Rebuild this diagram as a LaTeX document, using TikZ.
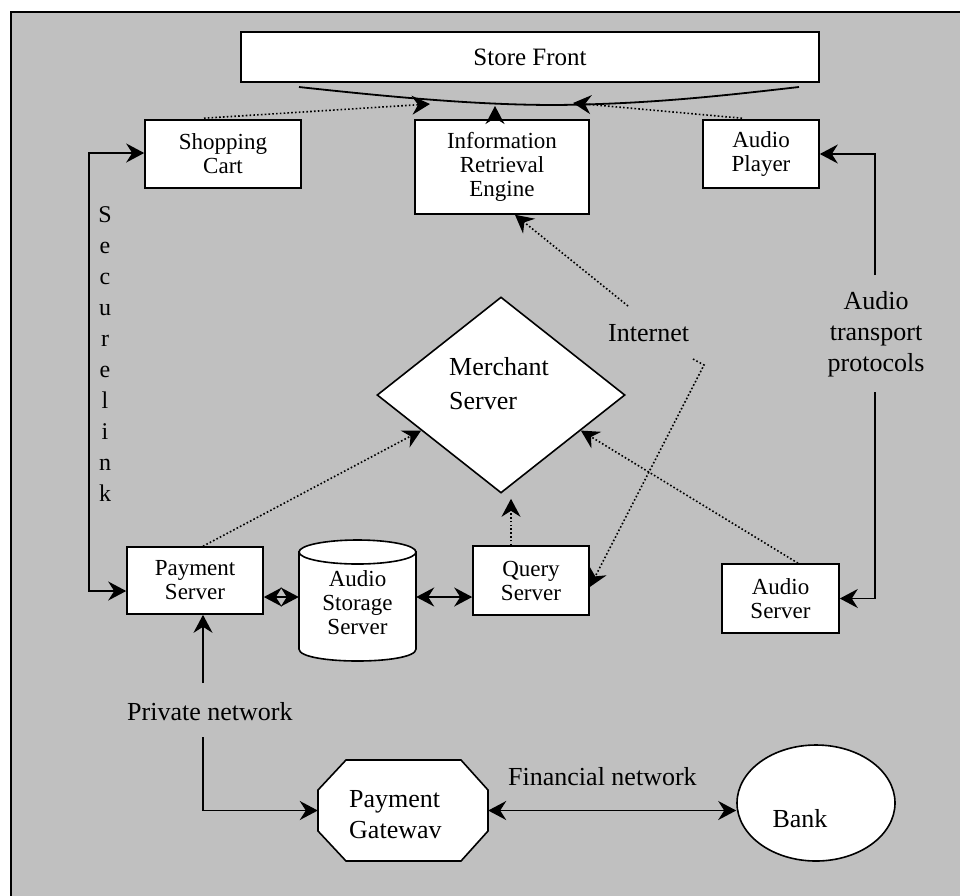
\documentclass[tikz,border=0pt]{standalone}
\usepackage{fontspec}
\setmainfont{Liberation Serif}
\usetikzlibrary{arrows.meta,calc,shapes.geometric}
\definecolor{panel}{HTML}{C0C0C0}
\begin{document}
\begin{tikzpicture}[x=1pt,y=-1pt,
  tip/.tip={Stealth[length=18pt,width=19pt,inset=6pt]},
  box/.style={draw,fill=white,line width=1.6pt,rectangle,inner sep=0pt,align=center,
    font=\fontsize{23}{24}\selectfont},
  link/.style={line width=1.8pt,-tip},
  twoway/.style={line width=1.8pt,tip-tip},
  plain/.style={line width=1.8pt},
  web/.style={line width=1.6pt,dash pattern=on 1.6pt off 2.2pt,-tip},
  big/.style={inner sep=0pt,font=\fontsize{26}{31}\selectfont},
]
\useasboundingbox (0,0) rectangle (960,895);
\fill[white] (0,0) rectangle (960,895);
% panel
\draw[fill=panel,line width=2pt] (11,12) rectangle (990,920);

% top row
\node[box,minimum width=578,minimum height=50,font=\fontsize{25}{26}\selectfont] (front) at (530,57) {Store Front};
\node[box,minimum width=156,minimum height=68] (cart) at (223,154) {Shopping\\Cart};
\node[box,minimum width=174,minimum height=94] (ir) at (502,167) {Information\\Retrieval\\Engine};
\node[box,minimum width=116,minimum height=68] (ap) at (761,154) {Audio\\Player};

% merchant server
\node[diamond,draw,fill=white,line width=1.6pt,inner sep=0pt,minimum width=248,minimum height=196] (merchant) at (501,395) {};
\node[big,anchor=north west,align=left,font=\fontsize{26}{34}\selectfont] (mlabel) at (449,357.5) {Merchant\\Server};

% bottom row
\node[box,minimum width=136,minimum height=67] (pay) at (195,580.5) {Payment\\Server};
\node[box,minimum width=116,minimum height=69] (query) at (531,580.5) {Query\\Server};
\node[box,minimum width=117,minimum height=69] (as) at (780.5,598.5) {Audio\\Server};

% audio storage cylinder
\node[minimum width=117,minimum height=121,inner sep=0pt] (store) at (357.5,600.5) {};
\draw[fill=white,line width=1.6pt] (299,552) -- (299,649) .. controls (299,665) and (416,665) .. (416,649) -- (416,552) -- cycle;
\draw[fill=white,line width=1.6pt] (357.5,552) ellipse [x radius=58.5,y radius=12];
\node[align=center,inner sep=0pt,anchor=north,font=\fontsize{23}{24}\selectfont] (storelabel) at (357.5,570) {Audio\\Storage\\Server};

% payment gateway and bank
\node[minimum width=170,minimum height=101,inner sep=0pt] (gate) at (403,810.5) {};
\draw[fill=white,line width=1.6pt] (346,760) -- (461,760) -- (488,790) -- (488,831) -- (461,861) -- (346,861) -- (318,831) -- (318,790) -- cycle;
\node[big,align=left,anchor=north west] (gatelabel) at (349,790) {Payment\\Gatewav};
\node[ellipse,draw,fill=white,line width=1.6pt,minimum width=158,minimum height=116,inner sep=0pt] (bank) at (816,803) {};
\node[big,anchor=base] (banklabel) at (800,827) {Bank};

% free labels
\node[big,anchor=base west] (internet) at (608,341) {Internet};
\node[big,anchor=base west] (private) at (127,720) {Private network};
\node[big,anchor=base west] (financial) at (508,785) {Financial network};
\node[big,anchor=north,align=center] (atp) at (876,291) {Audio\\transport\\protocols};
\node[anchor=north,align=center,inner sep=0pt,font=\fontsize{24}{31}\selectfont] (secure) at (105,206) {S\\e\\c\\u\\r\\e\\l\\i\\n\\k};

% store front feed curve
\coordinate (cL) at (299,87);
\coordinate (cR) at (799,87);
\coordinate (tipL) at (430,104);
\coordinate (tipM) at (495,106);
\coordinate (tipR) at (573,103);
\draw[plain] (cL) .. controls (400,98) and (480,105) .. (556,105) .. controls (650,104) and (720,96) .. (cR);
\draw[web] ($(cart.north)+(-19,-1)$) -- (tipL);
\draw[web] ($(ap.north)+(-19,-1)$) -- (tipR);
\draw[link] ($(ir.north)+(-7,0)$) -- (tipM);

% secure link
\coordinate (slTop) at (89,153);
\coordinate (slBot) at (89,591);
\draw[twoway] (cart.west |- slTop) -- (slTop) -- (slBot) -- (pay.west |- slBot);

% audio transport protocols
\coordinate (atpTop) at (875,275);
\coordinate (atpBot) at (875,392);
\draw[link] (atpTop) |- (ap.east);
\draw[link] (atpBot) |- (as.east);

% private network
\coordinate (pnTop) at (203,683);
\coordinate (pnBot) at (203,737);
\draw[link] (pnTop) -- (pay.south -| pnTop);
\draw[link] (pnBot) |- (gate.west);

% financial network
\draw[twoway] (gate.east) -- (gate.east -| bank.west);

% storage links
\coordinate (stY) at (0,597);
\draw[twoway] (pay.east |- stY) -- (store.west |- stY);
\draw[twoway] (store.east |- stY) -- (query.west |- stY);

% internet links
\coordinate (inetA) at (628,306);
\coordinate (inetB) at (693,359);
\coordinate (inetC) at (704,365);
\draw[web] (inetA) -- ($(ir.south)+(13,0)$);
\draw[web] (inetB) -- (inetC) -- ($(query.east)+(0,6.5)$);

% links into the merchant server
\draw[web] ($(pay.north)+(8,0)$) -- (merchant.204);
\draw[web] ($(query.north)+(-20,0)$) -- ($(merchant.south)+(10,5)$);
\draw[web] ($(as.north)+(17.5,0)$) -- (merchant.-24);
\end{tikzpicture}
\end{document}
